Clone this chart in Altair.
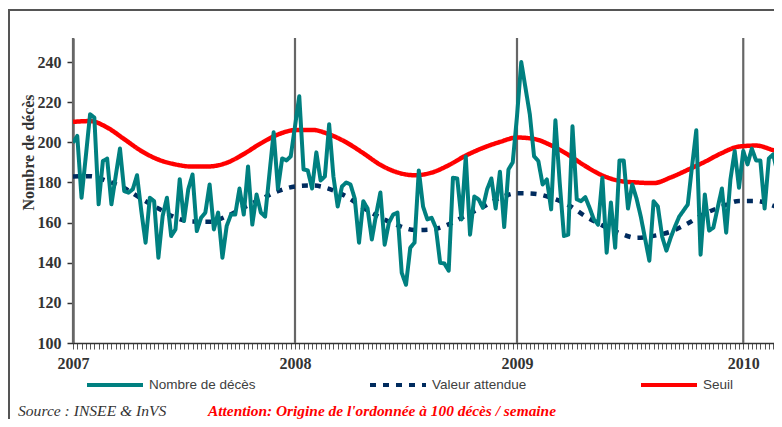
import altair as alt
import pandas as pd

# ------------------------------------------------------------------ data
semaines = list(range(0, 166))
deces = [199.8, 203.2, 172.4, 193, 214, 212.3, 169.1, 190.7, 191.9, 169.1,
         183.2, 196.9, 175.7, 174.9, 176.6, 183.6, 165.8, 150, 172.4, 170.7,
         142.5, 163.3, 172.4, 153.3, 156.6, 181.6, 160.8, 176.6, 184, 155.8,
         162.4, 165, 179, 156.6, 165, 142.5, 158.3, 164, 164, 177,
         164, 188, 159, 174, 165, 163, 184, 205, 177, 192,
         191, 193, 208, 223, 186.5, 186, 177, 195, 181, 183,
         209, 183, 168, 178, 180, 179, 172, 150, 170.7, 167,
         151.6, 164, 175, 149, 160, 164, 165, 135, 129, 147.5,
         150, 186, 168, 161.6, 162.4, 157.4, 140, 139.6, 136, 182.4,
         182, 161.6, 193, 154, 173, 171.6, 167.4, 176.6, 182, 167,
         185.4, 157.8, 186.5, 190, 213, 240, 227, 214, 193, 190.7,
         179, 181.5, 166.6, 211, 180, 153.3, 154, 208, 171.6, 170.7,
         172.7, 167.4, 161.6, 159, 182.4, 145, 170, 147.5, 191, 191,
         167, 179, 172, 163, 152, 141, 170.7, 168, 153, 146,
         152.5, 158, 163, 166, 169, 188, 206, 144, 174, 156,
         157.5, 167.4, 177, 155, 181.6, 195.7, 177.4, 195.7, 189, 196.9,
         191, 191, 167, 192, 194, 185]

semaines_lisses = list(range(0, 169, 4))
valeur_attendue = [183, 183.1, 180.7, 177.2, 171.9, 167, 162.5, 160.5, 160.4, 163.2,
                   167.5, 171.7, 175.7, 178, 178.5, 176.8, 173, 167.4, 162.5, 158.7,
                   156.3, 156.6, 159.1, 163.5, 167.8, 172.3, 174.6, 174.4, 172.4, 168.8,
                   163.2, 158.6, 154.8, 152.4, 153.4, 155.5, 159.6, 164.5, 168, 170.8,
                   170.8, 168.4, 165]
seuil = [210.2, 210.6, 207.4, 201.6, 195.7, 191.4, 189, 187.9, 188, 189.8,
         194.2, 199.5, 203.9, 206.1, 206.2, 204, 200, 194.6, 188.8, 185,
         183.6, 184.9, 188.6, 193.4, 197.2, 200.2, 202.4, 201.7, 198.5, 193.8,
         188.2, 183.5, 180.8, 180, 179.7, 182.5, 186.3, 190.3, 194.7, 197.9,
         198.4, 196.1, 193.5]

annees = ["2007", "2008", "2009", "2010"]
semaines_annees = [0, 52, 104, 157]
y_ticks = [100, 120, 140, 160, 180, 200, 220, 240]
series = ["Nombre de décès", "Valeur attendue", "Seuil"]
couleurs = ["#008080", "#002b5e", "#ff0000"]
tirets = [[1, 0], [6, 7], [1, 0]]
source_txt = "Source : INSEE & InVS"
attention_txt = "Attention: Origine de l'ordonnée à 100 décès / semaine"

# ------------------------------------------------------------------ tables
obs = pd.DataFrame({"semaine": semaines, "valeur": deces, "serie": series[0]})
lisse = pd.concat([
    pd.DataFrame({"semaine": semaines_lisses, "valeur": valeur_attendue, "serie": series[1]}),
    pd.DataFrame({"semaine": semaines_lisses, "valeur": seuil, "serie": series[2]}),
])
annees_df = pd.DataFrame({"semaine": semaines_annees, "annee": annees})

W, H = 701, 305
x_scale = alt.Scale(domain=[0, 164.2], nice=False, zero=False)
y_scale = alt.Scale(domain=[100, 252], nice=False, zero=False)

label_expr = " : ".join(f"datum.value == {w} ? '{a}'" for w, a in zip(semaines_annees, annees)) + " : ''"

x_axis = alt.Axis(values=list(range(0, 165)), labelExpr=label_expr, labelOverlap=False,
                  labelFlush=False, grid=False, tickSize=6, tickColor="#555", tickWidth=1,
                  domainColor="#333", domainWidth=1.5, labelFont="Liberation Serif",
                  labelFontWeight="bold", labelFontSize=16, labelColor="#333",
                  labelPadding=6, title=None)
y_axis = alt.Axis(values=y_ticks, grid=False, tickSize=6, tickColor="#333", tickWidth=1.5,
                  domainColor="#222", domainWidth=2, labelFont="Liberation Serif",
                  labelFontWeight="bold", labelFontSize=16, labelColor="#333", labelPadding=6,
                  title="Nombre de décès", titleFont="Liberation Serif", titleFontWeight="bold",
                  titleFontSize=16, titleColor="#333", titleAngle=270, titleX=-45, titleY=114,
                  titleAlign="center", titleBaseline="middle")

color = alt.Color("serie:N", scale=alt.Scale(domain=series, range=couleurs), title=None)
dash = alt.StrokeDash("serie:N", scale=alt.Scale(domain=series, range=tirets), title=None)

cadre = alt.Chart(pd.DataFrame({"k": [0]})).mark_rect(
    fill=None, stroke="#555", strokeWidth=2).encode(
    x=alt.value(-64), y=alt.value(-28), x2=alt.value(3000), y2=alt.value(3000))

regles = alt.Chart(annees_df).mark_rule(color="#666", strokeWidth=2.2).encode(
    x=alt.X("semaine:Q", scale=x_scale, axis=x_axis))

courbes = alt.Chart(lisse).mark_line(strokeWidth=4.5, interpolate="monotone",
                                     strokeCap="butt", clip=True).encode(
    x=alt.X("semaine:Q", scale=x_scale, axis=x_axis),
    y=alt.Y("valeur:Q", scale=y_scale, axis=y_axis),
    color=color, strokeDash=dash, detail="serie:N")

ligne = alt.Chart(obs).mark_line(strokeWidth=4, clip=True, strokeJoin="round").encode(
    x=alt.X("semaine:Q", scale=x_scale, axis=x_axis),
    y=alt.Y("valeur:Q", scale=y_scale, axis=y_axis),
    color=color, strokeDash=dash)

source = alt.Chart(pd.DataFrame({"t": [source_txt]})).mark_text(
    align="left", baseline="middle", font="Liberation Serif", fontStyle="italic",
    fontSize=15.6, color="#333").encode(x=alt.value(-55), y=alt.value(373), text="t:N")

attention = alt.Chart(pd.DataFrame({"t": [attention_txt]})).mark_text(
    align="left", baseline="middle", font="Liberation Serif", fontStyle="italic",
    fontWeight="bold", fontSize=15.4, color="#ff0000").encode(
    x=alt.value(135), y=alt.value(373), text="t:N")

chart = alt.layer(cadre, regles, courbes, ligne, source, attention).properties(
    width=W, height=H,
    autosize=alt.AutoSizeParams(type="none"),
    padding={"left": 65, "top": 30, "right": 0, "bottom": 76},
).configure_view(stroke=None).configure_legend(
    orient="none", legendX=12, legendY=317, direction="horizontal",
    symbolType="stroke", symbolSize=3136, symbolStrokeWidth=4,
    labelFont="Liberation Sans", labelFontSize=13.5, labelColor="#404040",
    labelOffset=4, columnPadding=106, padding=0, title=None,
)

chart.save("out.html", embed_options={"renderer": "svg", "actions": False})
